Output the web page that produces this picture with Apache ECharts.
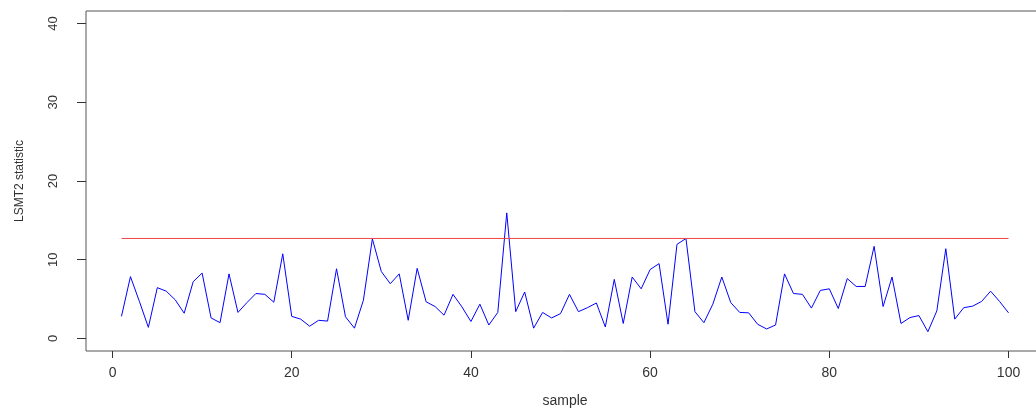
<!DOCTYPE html>
<html>
<head>
  <meta charset="utf-8">
  <script src="https://cdn.jsdelivr.net/npm/echarts@6/dist/echarts.min.js"></script>
  <style>
    html, body { margin: 0; padding: 0; background: #fff; overflow: hidden; }
    #main { width: 1036px; height: 410px; }
  </style>
</head>
<body>
<div id="main"></div>
<script>
// T2 statistic per sample
var t2Values = [
  2.8, 7.85, 4.7, 1.4, 6.45, 6.0, 4.9, 3.2, 7.2, 8.3,
  2.6, 2.0, 8.2, 3.3, 4.55, 5.7, 5.6, 4.6, 10.75, 2.8,
  2.45, 1.55, 2.3, 2.2, 8.85, 2.75, 1.3, 4.85, 12.65, 8.5,
  6.95, 8.2, 2.3, 8.9, 4.65, 4.05, 2.95, 5.6, 4.0, 2.15,
  4.35, 1.7, 3.3, 15.95, 3.4, 5.9, 1.3, 3.3, 2.6, 3.15,
  5.6, 3.4, 3.9, 4.5, 1.45, 7.5, 1.9, 7.8, 6.3, 8.75,
  9.5, 1.8, 11.95, 12.7, 3.4, 2.0, 4.35, 7.8, 4.55, 3.3,
  3.25, 1.8, 1.2, 1.7, 8.2, 5.7, 5.6, 3.85, 6.1, 6.3,
  3.8, 7.6, 6.6, 6.6, 11.7, 4.05, 7.8, 1.9, 2.65, 2.9,
  0.85, 3.5, 11.4, 2.45, 3.9, 4.1, 4.7, 6.0, 4.7, 3.25
]
var controlLimit = 12.7
var limitRange = [1, 100]
var xTicks = [0, 20, 40, 60, 80, 100]
var yTicks = [0, 10, 20, 30, 40]

var samples = t2Values.map(function (v, i) { return [i + 1, v] })
var limitLine = limitRange.map(function (x) { return [x, controlLimit] })

var myChart = echarts.init(document.getElementById('main'))
var fontFam = 'Liberation Sans, Arial, sans-serif'
myChart.setOption({
  animation: false,
  grid: {
    left: 86,
    top: 11,
    width: 958, // box runs past the right edge like the original
    height: 340,
    outerBoundsMode: 'none',
    show: true,
    borderColor: '#555',
    borderWidth: 1
  },
  xAxis: {
    type: 'value',
    min: -2.96,
    max: 103.96,
    name: 'sample',
    nameLocation: 'middle',
    nameGap: 43,
    nameTextStyle: { color: '#333', fontSize: 14, fontFamily: fontFam },
    axisLine: { show: false, onZero: false },
    axisTick: { show: true, length: 7, lineStyle: { color: '#333' }, customValues: xTicks },
    axisLabel: { color: '#333', fontSize: 14, fontFamily: fontFam, margin: 15, customValues: xTicks },
    splitLine: { show: false }
  },
  yAxis: {
    type: 'value',
    min: -1.6,
    max: 41.6,
    name: 'LSMT2 statistic',
    nameLocation: 'middle',
    nameGap: 60,
    nameTextStyle: { color: '#333', fontSize: 12, fontFamily: fontFam },
    axisLine: { show: false, onZero: false },
    axisTick: { show: true, length: 9, lineStyle: { color: '#333' }, customValues: yTicks },
    axisLabel: { color: '#333', fontSize: 13, fontFamily: fontFam, rotate: 90, margin: 26, customValues: yTicks },
    splitLine: { show: false }
  },
  series: [
    {
      name: 'T2',
      type: 'line',
      data: samples,
      symbol: 'none',
      lineStyle: { color: '#0000ff', width: 1 },
      itemStyle: { color: '#0000ff' }
    },
    {
      name: 'limit',
      type: 'line',
      data: limitLine,
      symbol: 'none',
      lineStyle: { color: '#f04444', width: 1 },
      itemStyle: { color: '#f04444' }
    }
  ]
})
</script>
</body>
</html>
